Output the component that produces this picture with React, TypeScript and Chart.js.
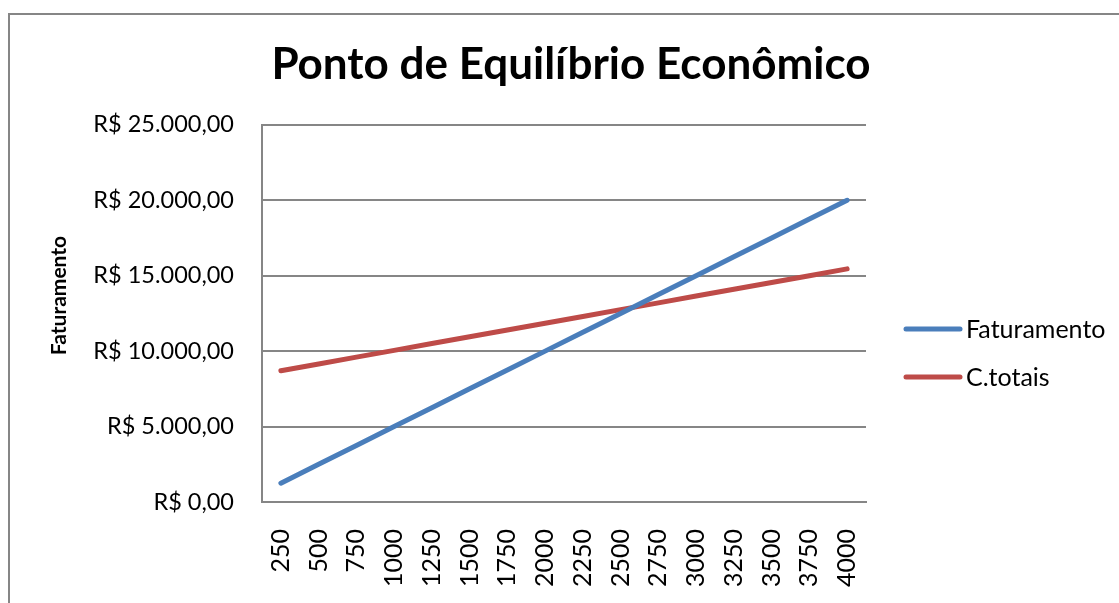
import React, { useEffect, useRef } from 'react';
import Chart from 'chart.js/auto';

const categories = ['250', '500', '750', '1000', '1250', '1500', '1750', '2000', '2250', '2500', '2750', '3000', '3250', '3500', '3750', '4000'];
const faturamento = [1250, 2500, 3750, 5000, 6250, 7500, 8750, 10000, 11250, 12500, 13750, 15000, 16250, 17500, 18750, 20000];
const cTotais = [8700, 9150, 9600, 10050, 10500, 10950, 11400, 11850, 12300, 12750, 13200, 13650, 14100, 14550, 15000, 15450];
const seriesNames = ['Faturamento', 'C.totais'];
const seriesColors = ['#4A7EBB', '#BE4B48'];
const yMin = 0;
const yMax = 25000;
const yStep = 5000;
const titleText = 'Ponto de Equilíbrio Econômico';
const yAxisTitle = 'Faturamento';

const FONT = 'Lato, "Open Sans", sans-serif';
const GRID = '#868686';

function brl(v: number): string {
  const s = Math.round(v).toString().replace(/\B(?=(\d{3})+(?!\d))/g, '.');
  return 'R$ ' + s + ',00';
}

const framePlugin = {
  id: 'frame',
  beforeDraw(chart: any) {
    const ctx = chart.ctx;
    ctx.save();
    ctx.fillStyle = '#ffffff';
    ctx.fillRect(0, 0, chart.width, chart.height);
    ctx.strokeStyle = GRID;
    ctx.lineWidth = 2;
    ctx.strokeRect(9, 14, chart.width + 50, chart.height + 50);
    ctx.restore();
  },
};

const legendPlugin = {
  id: 'customLegend',
  afterDraw(chart: any) {
    const ctx = chart.ctx;
    const area = chart.chartArea;
    ctx.save();
    chart.data.datasets.forEach((ds: any, i: number) => {
      const y = 329 + i * 48;
      const x0 = area.right + 40;
      ctx.strokeStyle = ds.borderColor;
      ctx.lineWidth = 5;
      ctx.lineCap = 'round';
      ctx.beginPath();
      ctx.moveTo(x0, y);
      ctx.lineTo(x0 + 54, y);
      ctx.stroke();
      ctx.fillStyle = '#000000';
      ctx.font = '25px ' + FONT;
      ctx.textAlign = 'left';
      ctx.textBaseline = 'middle';
      ctx.fillText(ds.label, x0 + 60, y + 1);
    });
    ctx.restore();
  },
};

export default function App() {
  const ref = useRef<HTMLCanvasElement | null>(null);

  useEffect(() => {
    if (!ref.current) return;
    const chart = new Chart(ref.current, {
      type: 'line',
      data: {
        labels: categories,
        datasets: [
          {
            label: seriesNames[0],
            data: faturamento,
            borderColor: seriesColors[0],
            backgroundColor: seriesColors[0],
            borderWidth: 5,
            pointRadius: 0,
            tension: 0,
            borderCapStyle: 'round',
            yAxisID: 'y',
          },
          {
            label: seriesNames[1],
            data: cTotais,
            borderColor: seriesColors[1],
            backgroundColor: seriesColors[1],
            borderWidth: 5,
            pointRadius: 0,
            tension: 0,
            borderCapStyle: 'round',
            yAxisID: 'y',
          },
        ],
      },
      options: {
        responsive: false,
        animation: false,
        layout: { padding: { left: 23, right: 0, top: 14, bottom: 0 } },
        plugins: {
          legend: { display: false },
          tooltip: { enabled: false },
          title: {
            display: true,
            text: titleText,
            color: '#000000',
            font: { family: FONT, size: 44, weight: 'bold', lineHeight: 1.2 },
            padding: { top: 24, bottom: 34 },
          },
        },
        scales: {
          x: {
            type: 'category',
            offset: true,
            grid: { display: false, drawTicks: false },
            border: { display: true, color: GRID, width: 2 },
            ticks: {
              color: '#000000',
              font: { family: FONT, size: 25 },
              minRotation: 90,
              maxRotation: 90,
              padding: 27,
              autoSkip: false,
            },
            afterFit(scale: any) {
              scale.height = 101;
            },
          },
          y: {
            type: 'linear',
            position: 'left',
            min: yMin,
            max: yMax,
            grid: { color: GRID, lineWidth: 2, drawTicks: false },
            border: { display: true, color: GRID, width: 2 },
            ticks: {
              stepSize: yStep,
              color: '#000000',
              font: { family: FONT, size: 23.5 },
              padding: 28,
              callback: (v: any) => brl(Number(v)),
            },
            title: {
              display: true,
              text: '       ' + yAxisTitle,
              color: '#000000',
              font: { family: FONT, size: 21, weight: 'bold' },
              padding: { top: 24, bottom: 0 },
            },
            afterFit(scale: any) {
              scale.width = 239;
            },
          },
          yRight: {
            type: 'linear',
            position: 'right',
            display: true,
            grid: { display: false, drawTicks: false },
            border: { display: false },
            ticks: { display: false },
            afterFit(scale: any) {
              scale.width = 253;
            },
          },
        },
      },
      plugins: [framePlugin, legendPlugin],
    } as any);
    return () => chart.destroy();
  }, []);

  return (
    <div style={{ position: 'fixed', left: 0, top: 0, width: 1119, height: 603 }}>
      <canvas ref={ref} width={1119} height={603} style={{ display: 'block' }} />
    </div>
  );
}
